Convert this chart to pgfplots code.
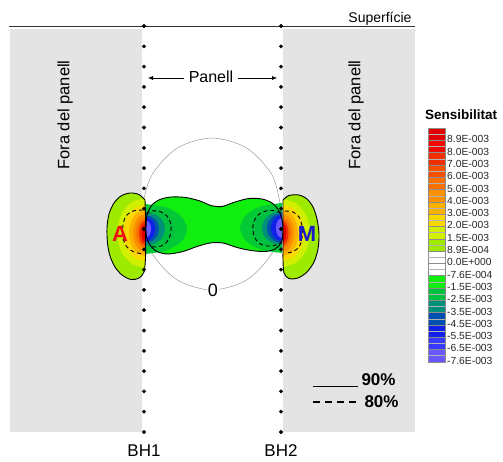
\documentclass[border=0pt]{standalone}
\usepackage{fontspec}
\setmainfont{Liberation Sans}
\usepackage{pgfplots}
\pgfplotsset{compat=1.18}
\usetikzlibrary{arrows.meta}

% sensitivity classes
\definecolor{outside}{HTML}{E4E4E4}
\definecolor{c00}{HTML}{E00000}
\definecolor{c01}{HTML}{F00A00}
\definecolor{c02}{HTML}{F03000}
\definecolor{c03}{HTML}{F55000}
\definecolor{c04}{HTML}{F87000}
\definecolor{c05}{HTML}{FA9000}
\definecolor{c06}{HTML}{FCB000}
\definecolor{c07}{HTML}{FAD800}
\definecolor{c08}{HTML}{D0F000}
\definecolor{c09}{HTML}{9EEA00}
\definecolor{c12}{HTML}{10EE10}
\definecolor{c13}{HTML}{00C040}
\definecolor{c14}{HTML}{00907A}
\definecolor{c15}{HTML}{0050B0}
\definecolor{c16}{HTML}{1020E8}
\definecolor{c17}{HTML}{3838FF}
\definecolor{c18}{HTML}{6A58FF}
\definecolor{posA}{HTML}{EE1111}
\definecolor{negM}{HTML}{1A1ACC}

% one class of the colour scale: colour, top, middle, bottom
\newcommand{\cbband}[4]{%
  \addplot[fill=#1, draw=black!45, line width=0.3pt] coordinates {(428,#2) (445,#2) (445,#4) (428,#4)} -- cycle;
  \addplot[draw=black!30, line width=0.25pt] coordinates {(428,#3) (445,#3)};}

\newcommand{\cblabel}[2]{\node[anchor=west, inner sep=0pt, text=black!85, font=\fontsize{10.3}{12}\selectfont] at (447,#1) {#2};}

\begin{document}
\begin{tikzpicture}
\begin{axis}[x=1pt, y=1pt, y dir=reverse, xmin=0, xmax=503, ymin=0, ymax=461,
  hide axis, scale only axis, clip=false]

% frame of the picture
\addplot[draw=none] coordinates {(0,0) (503,461)};

% ground outside the panel
\addplot[fill=outside, draw=none] coordinates {(10,29) (142,29) (142,432) (10,432)} -- cycle;
\addplot[fill=outside, draw=none] coordinates {(283,29) (415,29) (415,432) (283,432)} -- cycle;

% surface
\addplot[draw=black!80, line width=1pt] coordinates {(9,26) (415,26)};

% zero contour
\addplot[smooth, draw=black!40, line width=0.5pt] coordinates {
 (282,214) (272.6,252) (247,279.8) (212,290) (177,279.8) (151.4,252)
 (142,214) (151.4,176) (177,148.2) (212,138) (247,148.2) (272.6,176) (282,214)};

% negative sensitivity between the boreholes
\addplot[smooth, fill=c12, draw=none] coordinates {
 (146,228) (147,215) (152,205) (160,199.5) (171,197) (186,197.5) (200,201) (211,205.5)
 (222,206.5) (235,202) (249,198.5) (262,199) (272,203) (279,211) (282.5,222) (283,233)
 (281,243) (275,249) (265,251.5) (251,250.5) (237,247.5) (223,243) (210,243) (197,246.5)
 (183,251.5) (168,254) (157,251.5) (150,245) (146.5,237) (146,228)} -- cycle;

% left end of the negative zone
\addplot[smooth, fill=c13!80!c12, draw=none] coordinates {(145,204) (166,207.35) (181.4,216.5) (187,229) (181.4,241.5) (166,250.65) (145,254)} -- cycle;
\addplot[smooth, fill=c13, draw=none] coordinates {(145,208) (160,210.8) (171,218.5) (175,229) (171,239.5) (160,247.2) (145,250)} -- cycle;
\addplot[smooth, fill=c14, draw=none] coordinates {(145,212) (155,214.3) (162.3,220.5) (165,229) (162.3,237.5) (155,243.7) (145,246)} -- cycle;
\addplot[smooth, fill=c15, draw=none] coordinates {(145,215) (152,216.9) (157.1,222) (159,229) (157.1,236) (152,241.1) (145,243)} -- cycle;
\addplot[smooth, fill=c16, draw=none] coordinates {(145,217) (150,218.6) (153.66,223) (155,229) (153.66,235) (150,239.4) (145,241)} -- cycle;
\addplot[smooth, fill=c18, draw=none] coordinates {(145,220) (148,221.2) (150.2,224.5) (151,229) (150.2,233.5) (148,236.8) (145,238)} -- cycle;

% right end of the negative zone
\addplot[smooth, fill=c13!80!c12, draw=none] coordinates {(282,203) (261,206.35) (245.6,215.5) (240,228) (245.6,240.5) (261,249.65) (282,253)} -- cycle;
\addplot[smooth, fill=c13, draw=none] coordinates {(282,207) (267,209.8) (256,217.5) (252,228) (256,238.5) (267,246.2) (282,249)} -- cycle;
\addplot[smooth, fill=c14, draw=none] coordinates {(282,211) (272,213.3) (264.7,219.5) (262,228) (264.7,236.5) (272,242.7) (282,245)} -- cycle;
\addplot[smooth, fill=c15, draw=none] coordinates {(282,213) (274.5,215) (269,220.5) (267,228) (269,235.5) (274.5,241) (282,243)} -- cycle;
\addplot[smooth, fill=c16, draw=none] coordinates {(282,215) (276.5,216.74) (272.5,221.5) (271,228) (272.5,234.5) (276.5,239.26) (282,241)} -- cycle;
\addplot[smooth, fill=c18, draw=none] coordinates {(282,218) (279,219.34) (276.8,223) (276,228) (276.8,233) (279,236.66) (282,238)} -- cycle;

\addplot[smooth, draw=black, line width=0.9pt] coordinates {
 (146,228) (147,215) (152,205) (160,199.5) (171,197) (186,197.5) (200,201) (211,205.5)
 (222,206.5) (235,202) (249,198.5) (262,199) (272,203) (279,211) (282.5,222) (283,233)
 (281,243) (275,249) (265,251.5) (251,250.5) (237,247.5) (223,243) (210,243) (197,246.5)
 (183,251.5) (168,254) (157,251.5) (150,245) (146.5,237) (146,228)};

% positive lobe at BH1
\addplot[smooth, fill=c09, draw=none] coordinates {
 (145,200) (139,194.5) (130,193) (121,196) (114,203) (109,214) (107,228) (107.5,243)
 (110,256) (115,267) (122,275) (131,279.5) (139,278) (144,272) (145.5,258) (145.5,244)
 (145.5,230) (145.5,216) (145,200)} -- cycle;
\addplot[smooth, fill=c08, draw=none] coordinates {(145,198) (131,202.7) (120.8,215.5) (117,233) (120.8,250.5) (131,263.3) (145,268)} -- cycle;
\addplot[smooth, fill=c07, draw=none] coordinates {(145,205) (134,208.75) (125.95,219) (123,233) (125.95,247) (134,257.25) (145,261)} -- cycle;
\addplot[smooth, fill=c06, draw=none] coordinates {(145,210) (137,213.1) (131.14,221.5) (129,233) (131.14,244.5) (137,252.9) (145,256)} -- cycle;
\addplot[smooth, fill=c05, draw=none] coordinates {(145,214) (139,216.55) (134.61,223.5) (133,233) (134.61,242.5) (139,249.45) (145,252)} -- cycle;
\addplot[smooth, fill=c04, draw=none] coordinates {(145,218) (140.5,220) (137.21,225.5) (136,233) (137.21,240.5) (140.5,246) (145,248)} -- cycle;
\addplot[smooth, fill=c02, draw=none] coordinates {(145,221) (142,222.6) (139.8,227) (139,233) (139.8,239) (142,243.4) (145,245)} -- cycle;
\addplot[smooth, fill=c00, draw=none] coordinates {(145,224) (143.25,225.2) (141.97,228.5) (141.5,233) (141.97,237.5) (143.25,240.8) (145,242)} -- cycle;
\addplot[smooth, draw=black, line width=0.9pt] coordinates {
 (145,200) (139,194.5) (130,193) (121,196) (114,203) (109,214) (107,228) (107.5,243)
 (110,256) (115,267) (122,275) (131,279.5) (139,278) (144,272) (145.5,258) (145.5,244)
 (145.5,230) (145.5,216) (145,200)};

% positive lobe at BH2
\addplot[smooth, fill=c09, draw=none] coordinates {
 (283,200) (289,195.5) (299,195) (307,199) (313,207) (317,219) (319,234) (318,249)
 (314,262) (307,272) (298,278) (289,278.5) (284,273) (283,260) (283,246) (283,232)
 (283,218) (283,200)} -- cycle;
\addplot[smooth, fill=c08, draw=none] coordinates {(283,199) (296.5,203.6) (306.4,216) (310,233) (306.4,250) (296.5,262.4) (283,267)} -- cycle;
\addplot[smooth, fill=c07, draw=none] coordinates {(283,205) (293.5,208.75) (301.2,219) (304,233) (301.2,247) (293.5,257.25) (283,261)} -- cycle;
\addplot[smooth, fill=c06, draw=none] coordinates {(283,210) (290.5,213.1) (296,221.5) (298,233) (296,244.5) (290.5,252.9) (283,256)} -- cycle;
\addplot[smooth, fill=c05, draw=none] coordinates {(283,214) (288.5,216.55) (292.53,223.5) (294,233) (292.53,242.5) (288.5,249.45) (283,252)} -- cycle;
\addplot[smooth, fill=c04, draw=none] coordinates {(283,218) (287,220) (289.93,225.5) (291,233) (289.93,240.5) (287,246) (283,248)} -- cycle;
\addplot[smooth, fill=c02, draw=none] coordinates {(283,221) (285.75,222.6) (287.76,227) (288.5,233) (287.76,239) (285.75,243.4) (283,245)} -- cycle;
\addplot[smooth, fill=c00, draw=none] coordinates {(283,224) (284.5,225.2) (285.6,228.5) (286,233) (285.6,237.5) (284.5,240.8) (283,242)} -- cycle;
\addplot[smooth, draw=black, line width=0.9pt] coordinates {
 (283,200) (289,195.5) (299,195) (307,199) (313,207) (317,219) (319,234) (318,249)
 (314,262) (307,272) (298,278) (289,278.5) (284,273) (283,260) (283,246) (283,232)
 (283,218) (283,200)};

% 80% contours (dashed)
\addplot[smooth, draw=black, line width=0.9pt, dash pattern=on 4pt off 3pt] coordinates {
 (146,214) (152,211) (160,211.5) (167,216) (171,225) (170,236) (165,244) (157,247) (150,246)};
\addplot[smooth, draw=black, line width=0.9pt, dash pattern=on 4pt off 3pt] coordinates {
 (281,213) (273,210.5) (264,211.5) (257,216) (253,225) (254,236) (259,243) (267,246) (276,245) (281,242)};
\addplot[smooth, draw=black, line width=0.9pt, dash pattern=on 4pt off 3pt] coordinates {
 (143,210) (133,211) (126,216) (123,225) (123,238) (127,247) (134,252) (143,254)};
\addplot[smooth, draw=black, line width=0.9pt, dash pattern=on 4pt off 3pt] coordinates {
 (285,211) (293,212) (299,217) (302,226) (302,238) (299,247) (292,252) (285,253)};

% electrodes in the boreholes
\addplot[only marks, mark=*, mark size=1.75pt, black] coordinates {
 (144,26) (144,46.3) (144,66.6) (144,86.9) (144,107.2) (144,127.5) (144,147.8) (144,168.1)
 (144,188.4) (144,208.7) (144,229) (144,249.3) (144,269.6) (144,289.9) (144,310.2)
 (144,330.5) (144,350.8) (144,371.1) (144,391.4) (144,411.7) (144,432)
 (281,26) (281,46.3) (281,66.6) (281,86.9) (281,107.2) (281,127.5) (281,147.8) (281,168.1)
 (281,188.4) (281,208.7) (281,229) (281,249.3) (281,269.6) (281,289.9) (281,310.2)
 (281,330.5) (281,350.8) (281,371.1) (281,391.4) (281,411.7) (281,432)};

% panel width
\addplot[-{Latex[length=5pt,width=4pt]}, line width=0.5pt, black] coordinates {(184,78) (148,78)};
\addplot[-{Latex[length=5pt,width=4pt]}, line width=0.5pt, black] coordinates {(238,78) (277,78)};
\node[font=\fontsize{16}{18}\selectfont] at (211,77) {Panell};

\node[anchor=base east, font=\fontsize{14}{16}\selectfont] at (415,22.5) {Superfície};
\node[rotate=90, font=\fontsize{16.5}{18}\selectfont] at (65,115) {Fora del panell};
\node[rotate=90, font=\fontsize{16.5}{18}\selectfont] at (356,115) {Fora del panell};
\node[fill=white, inner sep=1pt, font=\fontsize{18}{20}\selectfont] at (213,290) {0};
\node[text=posA, font=\bfseries\fontsize{22}{24}\selectfont] at (120,234) {A};
\node[text=negM, font=\bfseries\fontsize{22}{24}\selectfont] at (307,234) {M};
\node[font=\fontsize{17}{19}\selectfont] at (144,451) {BH1};
\node[font=\fontsize{17}{19}\selectfont] at (281,451) {BH2};

% key of the contour lines
\addplot[draw=black, line width=1pt] coordinates {(313,386) (358,386)};
\addplot[draw=black, line width=1.4pt, dash pattern=on 7pt off 5pt] coordinates {(313,402) (358,402)};
\node[anchor=west, font=\bfseries\fontsize{17}{19}\selectfont] at (358,379.5) {90\%};
\node[anchor=west, font=\bfseries\fontsize{17}{19}\selectfont] at (361,402) {80\%};

% colour scale
\node[anchor=west, inner sep=0pt, font=\bfseries\fontsize{13.5}{15}\selectfont] at (425,115) {Sensibilitat};
\cbband{c00}{128}{134.15}{140.3}
\cbband{c01}{140.3}{146.45}{152.6}
\cbband{c02}{152.6}{158.75}{164.9}
\cbband{c03}{164.9}{171.05}{177.2}
\cbband{c04}{177.2}{183.35}{189.5}
\cbband{c05}{189.5}{195.65}{201.8}
\cbband{c06}{201.8}{207.95}{214.1}
\cbband{c07}{214.1}{220.25}{226.4}
\cbband{c08}{226.4}{232.55}{238.7}
\cbband{c09}{238.7}{244.85}{251}
\cbband{white}{251}{257.15}{263.3}
\cbband{white}{263.3}{269.45}{275.6}
\cbband{c12}{275.6}{281.75}{287.9}
\cbband{c13}{287.9}{294.05}{300.2}
\cbband{c14}{300.2}{306.35}{312.5}
\cbband{c15}{312.5}{318.65}{324.8}
\cbband{c16}{324.8}{330.95}{337.1}
\cbband{c17}{337.1}{343.25}{349.4}
\cbband{c18}{349.4}{355.55}{361.7}
\cblabel{139.3}{8.9E-003}
\cblabel{151.6}{8.0E-003}
\cblabel{163.9}{7.0E-003}
\cblabel{176.2}{6.0E-003}
\cblabel{188.5}{5.0E-003}
\cblabel{200.8}{4.0E-003}
\cblabel{213.1}{3.0E-003}
\cblabel{225.4}{2.0E-003}
\cblabel{237.7}{1.5E-003}
\cblabel{250}{8.9E-004}
\cblabel{262.3}{0.0E+000}
\cblabel{274.6}{-7.6E-004}
\cblabel{286.9}{-1.5E-003}
\cblabel{299.2}{-2.5E-003}
\cblabel{311.5}{-3.5E-003}
\cblabel{323.8}{-4.5E-003}
\cblabel{336.1}{-5.5E-003}
\cblabel{348.4}{-6.5E-003}
\cblabel{360.7}{-7.6E-003}

\end{axis}
\end{tikzpicture}
\end{document}
